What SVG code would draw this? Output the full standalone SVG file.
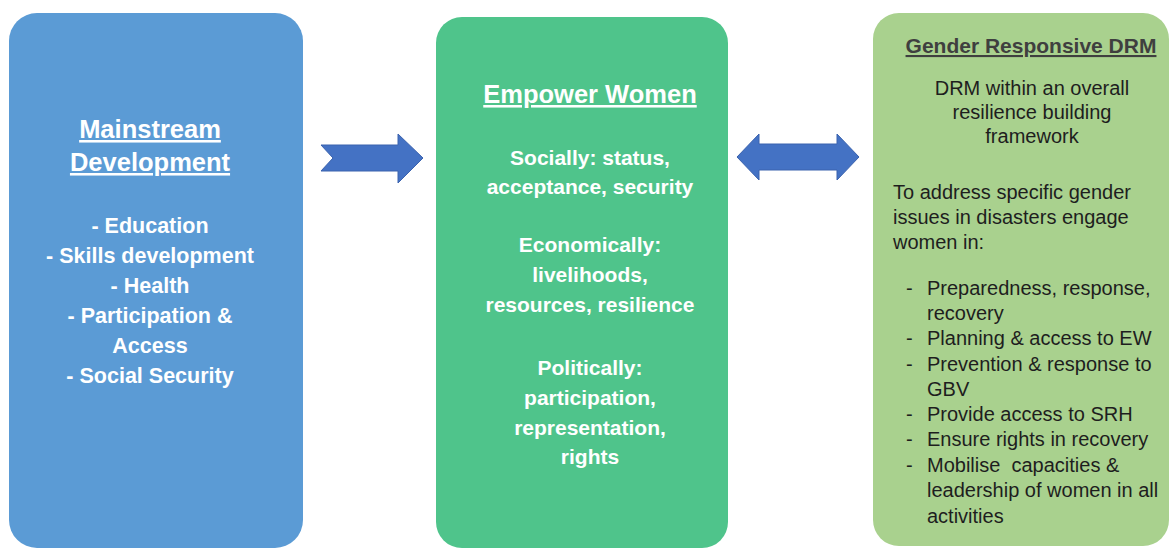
<svg xmlns="http://www.w3.org/2000/svg" width="1174" height="549" viewBox="0 0 1174 549">
<style>
  .w { fill:#ffffff; font-family:"Liberation Sans", Arial, sans-serif; font-weight:bold; text-anchor:middle; }
  .wt { font-size:25.5px; text-decoration:underline; }
  .wb { font-size:21.5px; }
  .gb { font-size:21px; }
  .dt { fill:#3f3f3f; font-family:"Liberation Sans", Arial, sans-serif; font-weight:bold; font-size:21px; text-anchor:middle; text-decoration:underline; }
  .d { fill:#1e1e1e; font-family:"Liberation Sans", Arial, sans-serif; font-size:20px; }
  .c { text-anchor:middle; }
  .arrow { fill:#4472C4; stroke:#3A62AE; stroke-width:1; }
</style>
<rect width="1174" height="549" fill="#ffffff"/>

<g id="mainstream">
  <rect x="9" y="13" width="294" height="535" rx="28" ry="28" fill="#5B9BD5"/>
  <text class="w wt" x="150" y="138">Mainstream</text>
  <text class="w wt" x="150" y="171">Development</text>
  <text class="w wb" x="150" y="233">- Education</text>
  <text class="w wb" x="150" y="263">- Skills development</text>
  <text class="w wb" x="150" y="293">- Health</text>
  <text class="w wb" x="150" y="323">- Participation &amp;</text>
  <text class="w wb" x="150" y="353">Access</text>
  <text class="w wb" x="150" y="383">- Social Security</text>
</g>

<g id="empower">
  <rect x="436" y="17" width="292" height="531" rx="26" ry="26" fill="#4FC48B"/>
  <text class="w wt" x="590" y="103">Empower Women</text>
  <text class="w gb" x="590" y="165">Socially: status,</text>
  <text class="w gb" x="590" y="194">acceptance, security</text>
  <text class="w gb" x="590" y="252">Economically:</text>
  <text class="w gb" x="590" y="282">livelihoods,</text>
  <text class="w gb" x="590" y="312">resources, resilience</text>
  <text class="w gb" x="590" y="375">Politically:</text>
  <text class="w gb" x="590" y="405">participation,</text>
  <text class="w gb" x="590" y="435">representation,</text>
  <text class="w gb" x="590" y="464">rights</text>
</g>

<g id="gender-drm">
  <rect x="873" y="13" width="296" height="533" rx="26" ry="26" fill="#A9D18E"/>
  <text class="dt" x="1031" y="53">Gender Responsive DRM</text>
  <text class="d c" x="1032" y="95">DRM within an overall</text>
  <text class="d c" x="1032" y="119">resilience building</text>
  <text class="d c" x="1032" y="143">framework</text>
  <text class="d" x="893" y="199">To address specific gender</text>
  <text class="d" x="893" y="224">issues in disasters engage</text>
  <text class="d" x="893" y="249">women in:</text>
  <text class="d" x="906" y="295">-</text><text class="d" x="927" y="295">Preparedness, response,</text>
  <text class="d" x="927" y="320">recovery</text>
  <text class="d" x="906" y="345">-</text><text class="d" x="927" y="345">Planning &amp; access to EW</text>
  <text class="d" x="906" y="371">-</text><text class="d" x="927" y="371">Prevention &amp; response to</text>
  <text class="d" x="927" y="396">GBV</text>
  <text class="d" x="906" y="421">-</text><text class="d" x="927" y="421">Provide access to SRH</text>
  <text class="d" x="906" y="446">-</text><text class="d" x="927" y="446">Ensure rights in recovery</text>
  <text class="d" x="906" y="472">-</text><text class="d" x="927" y="472" xml:space="preserve">Mobilise  capacities &amp;</text>
  <text class="d" x="927" y="497">leadership of women in all</text>
  <text class="d" x="927" y="523">activities</text>
</g>

<g id="connectors">
  <polygon class="arrow" points="321,145 398,145 398,134 423,158 398,183 398,171 321,171 333,158"/>
  <polygon class="arrow" points="737,157 759,134 759,144 837,144 837,134 859,157 837,180 837,170 759,170 759,180"/>
</g>
</svg>
